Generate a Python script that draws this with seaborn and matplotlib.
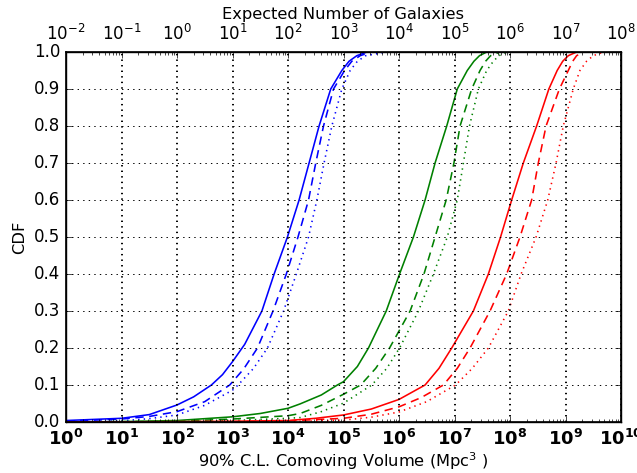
import matplotlib
matplotlib.use("Agg")
import matplotlib.pyplot as plt
import seaborn as sns
import numpy as np
import pandas as pd
from matplotlib.ticker import LogLocator, FixedLocator, FormatStrFormatter, FuncFormatter

plt.style.use("classic")
plt.rcParams["figure.facecolor"] = "white"
plt.rcParams["savefig.facecolor"] = "white"
plt.rcParams["font.size"] = 11.7
plt.rcParams["axes.unicode_minus"] = False
plt.rcParams["mathtext.fontset"] = "dejavusans"
plt.rcParams["font.family"] = ["DejaVu Sans"]

# log10 of 90% C.L. comoving volume (Mpc^3) and CDF values
blue_solid_logv = [0, 1, 1.5, 2, 2.3, 2.62, 2.82, 3.0, 3.22, 3.53, 3.75, 3.99, 4.20, 4.38, 4.56, 4.77, 4.97, 5.1, 5.24, 5.42, 5.6]
blue_solid_cdf = [0.004, 0.01, 0.02, 0.046, 0.068, 0.1, 0.128, 0.163, 0.21, 0.3, 0.4, 0.5, 0.6, 0.7, 0.8, 0.9, 0.95, 0.975, 0.99, 1.0, 1.0]

blue_dashed_logv = [0, 1, 1.5, 2, 2.5, 2.95, 3.2, 3.45, 3.73, 3.97, 4.18, 4.37, 4.50, 4.64, 4.82, 5.02, 5.15, 5.3, 5.5, 5.7]
blue_dashed_cdf = [0.002, 0.008, 0.015, 0.028, 0.055, 0.1, 0.143, 0.2, 0.3, 0.4, 0.5, 0.6, 0.7, 0.8, 0.9, 0.95, 0.975, 0.99, 1.0, 1.0]

blue_dotted_logv = [0, 1, 1.5, 2, 2.5, 3.0, 3.1, 3.38, 3.63, 3.92, 4.15, 4.37, 4.52, 4.65, 4.79, 4.97, 5.12, 5.25, 5.4, 5.78, 5.9]
blue_dotted_cdf = [0.0, 0.003, 0.009, 0.019, 0.045, 0.086, 0.1, 0.145, 0.2, 0.3, 0.4, 0.5, 0.6, 0.7, 0.8, 0.9, 0.95, 0.975, 0.99, 1.0, 1.0]

green_solid_logv = [0, 1, 2, 3, 3.5, 4, 4.22, 4.6, 4.89, 5.0, 5.25, 5.45, 5.77, 6.01, 6.26, 6.47, 6.65, 6.86, 7.05, 7.23, 7.35, 7.45, 7.58, 8.1]
green_solid_cdf = [0.0, 0.001, 0.004, 0.014, 0.023, 0.037, 0.049, 0.073, 0.1, 0.109, 0.15, 0.2, 0.3, 0.4, 0.5, 0.6, 0.7, 0.8, 0.9, 0.95, 0.975, 0.99, 1.0, 1.0]

green_dashed_logv = [0, 2, 3, 4, 4.22, 4.6, 5.0, 5.31, 5.58, 5.83, 6.2, 6.45, 6.65, 6.85, 6.99, 7.1, 7.31, 7.46, 7.56, 7.65, 7.82, 8.1]
green_dashed_cdf = [0.0, 0.002, 0.008, 0.017, 0.023, 0.045, 0.075, 0.1, 0.145, 0.2, 0.3, 0.4, 0.5, 0.6, 0.7, 0.8, 0.9, 0.95, 0.975, 0.99, 1.0, 1.0]

green_dotted_logv = [0, 2, 3, 4, 4.22, 4.6, 5.0, 5.51, 5.78, 6.01, 6.35, 6.62, 6.87, 7.05, 7.16, 7.27, 7.43, 7.58, 7.7, 7.8, 7.94, 8.1]
green_dotted_cdf = [0.0, 0.001, 0.004, 0.01, 0.012, 0.028, 0.051, 0.1, 0.145, 0.2, 0.3, 0.4, 0.5, 0.6, 0.7, 0.8, 0.9, 0.95, 0.975, 0.99, 1.0, 1.0]

red_solid_logv = [0, 2, 3, 4, 4.5, 5, 5.5, 6, 6.47, 6.72, 6.95, 7.34, 7.61, 7.83, 8.03, 8.24, 8.48, 8.70, 8.85, 8.95, 9.05, 9.2, 9.5]
red_solid_cdf = [0.0, 0.001, 0.002, 0.004, 0.01, 0.019, 0.035, 0.061, 0.1, 0.145, 0.2, 0.3, 0.4, 0.5, 0.6, 0.7, 0.8, 0.9, 0.95, 0.975, 0.99, 1.0, 1.0]

red_dashed_logv = [0, 3, 4, 5, 5.5, 6, 6.4, 6.80, 7.05, 7.28, 7.64, 7.94, 8.18, 8.39, 8.51, 8.65, 8.89, 9.05, 9.13, 9.2, 9.32, 9.6]
red_dashed_cdf = [0.0, 0.001, 0.003, 0.01, 0.021, 0.041, 0.066, 0.1, 0.145, 0.2, 0.3, 0.4, 0.5, 0.6, 0.7, 0.8, 0.9, 0.95, 0.975, 0.99, 1.0, 1.0]

red_dotted_logv = [0, 4, 5, 5.5, 6, 6.5, 7.02, 7.32, 7.61, 7.97, 8.2, 8.47, 8.68, 8.83, 8.96, 9.14, 9.26, 9.38, 9.5, 9.68, 9.9]
red_dotted_cdf = [0.0, 0.001, 0.005, 0.013, 0.027, 0.055, 0.1, 0.145, 0.2, 0.3, 0.4, 0.5, 0.6, 0.7, 0.8, 0.9, 0.95, 0.975, 0.99, 1.0, 1.0]

galaxies_per_mpc3 = 0.01

DASHED = (0, (6, 4))
DOTTED = (0, (1, 3))
series = [
    (blue_solid_logv, blue_solid_cdf, "b", "-"),
    (blue_dashed_logv, blue_dashed_cdf, "b", DASHED),
    (blue_dotted_logv, blue_dotted_cdf, "b", DOTTED),
    (green_solid_logv, green_solid_cdf, "g", "-"),
    (green_dashed_logv, green_dashed_cdf, "g", DASHED),
    (green_dotted_logv, green_dotted_cdf, "g", DOTTED),
    (red_solid_logv, red_solid_cdf, "r", "-"),
    (red_dashed_logv, red_dashed_cdf, "r", DASHED),
    (red_dotted_logv, red_dotted_cdf, "r", DOTTED),
]

W, H = 637, 473
DPI = 100
fig = plt.figure(figsize=(W / DPI, H / DPI), dpi=DPI)
ax = fig.add_axes([66 / W, 1 - 422 / H, (621 - 66) / W, (422 - 52) / H])

for logv, cdf, color, ls in series:
    df = pd.DataFrame({"volume": np.power(10.0, logv), "cdf": cdf})
    sns.lineplot(data=df, x="volume", y="cdf", color=color, linestyle=ls,
                 linewidth=1.15, ax=ax, sort=False, estimator=None)

ax.set_xscale("log")
ax.set_xlim(1, 1e10)
ax.set_ylim(0, 1.0)
ax.yaxis.set_major_locator(FixedLocator(np.arange(0, 1.01, 0.1)))
ax.yaxis.set_major_formatter(FormatStrFormatter("%.1f"))
ax.xaxis.set_major_locator(LogLocator(base=10, numticks=20))
ax.xaxis.set_minor_locator(LogLocator(base=10, subs=np.arange(2, 10), numticks=20))
ax.xaxis.set_major_formatter(FuncFormatter(lambda v, p: r"$\mathbf{10^{%d}}$" % round(np.log10(v))))
ax.set_xlabel(r"90% C.L. Comoving Volume (Mpc$^3$ )", fontsize=11.7, labelpad=1)
ax.set_ylabel("CDF", fontsize=11.7, labelpad=5)
ax.tick_params(axis="x", which="major", labelsize=13, pad=5)
ax.tick_params(axis="y", labelsize=12)
ax.grid(False)
ax.xaxis.grid(True, which="major", linestyle=(0, (1, 3)), color="k", linewidth=1.4)
ax.yaxis.grid(True, which="major", linestyle=(0, (1, 3)), color="k", linewidth=0.7)
ax.tick_params(axis="x", top=False)

ax2 = ax.twiny()
ax2.set_xscale("log")
ax2.set_xlim(1 * galaxies_per_mpc3, 1e10 * galaxies_per_mpc3)
ax2.xaxis.set_major_locator(LogLocator(base=10, numticks=20))
ax2.xaxis.set_minor_locator(LogLocator(base=10, subs=np.arange(2, 10), numticks=20))
ax2.xaxis.set_major_formatter(FuncFormatter(lambda v, p: r"$10^{%d}$" % round(np.log10(v))))
ax2.set_xlabel("Expected Number of Galaxies", fontsize=11.7, labelpad=3)
ax2.tick_params(axis="x", labelsize=12, pad=6)

for spine in ax.spines.values():
    spine.set_linewidth(1.2)

fig.savefig("out.png", dpi=DPI)
